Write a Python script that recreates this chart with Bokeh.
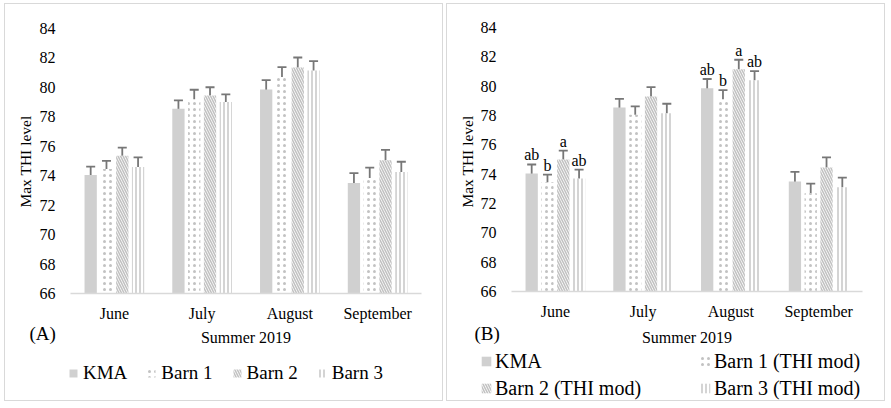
import math
from bokeh.plotting import figure
from bokeh.models import (ColumnDataSource, Range1d, FixedTicker, Whisker, TeeHead,
                          Legend, LegendItem, Label)
from bokeh.layouts import row
from bokeh.transform import dodge
from bokeh.core.properties import value
from bokeh.embed import file_html
from bokeh.resources import INLINE

months = ["June", "July", "August", "September"]

# Panel A: maximum THI level
kma_a = [74.05, 78.55, 79.85, 73.5]
barn1_a = [74.45, 79.2, 80.7, 73.85]
barn2_a = [75.35, 79.45, 81.35, 75.05]
barn3_a = [74.6, 79.0, 81.15, 74.25]
kma_a_err = [0.57, 0.57, 0.65, 0.68]
barn1_a_err = [0.56, 0.64, 0.68, 0.7]
barn2_a_err = [0.56, 0.56, 0.68, 0.71]
barn3_a_err = [0.64, 0.53, 0.64, 0.7]

# Panel B: maximum THI level (THI mod)
kma_b = [74.05, 78.55, 79.85, 73.5]
barn1_b = [73.45, 78.05, 79.1, 72.7]
barn2_b = [75.0, 79.3, 81.15, 74.45]
barn3_b = [73.7, 78.15, 80.4, 73.1]
kma_b_err = [0.61, 0.59, 0.64, 0.66]
barn1_b_err = [0.52, 0.57, 0.63, 0.65]
barn2_b_err = [0.6, 0.63, 0.65, 0.69]
barn3_b_err = [0.61, 0.65, 0.63, 0.66]
kma_b_sig = ["ab", "", "ab", ""]
barn1_b_sig = ["b", "", "b", ""]
barn2_b_sig = ["a", "", "a", ""]
barn3_b_sig = ["ab", "", "ab", ""]

names_a = ["KMA", "Barn 1", "Barn 2", "Barn 3"]
names_b = ["KMA", "Barn 1 (THI mod)", "Barn 2 (THI mod)", "Barn 3 (THI mod)"]
x_title = "Summer 2019"
y_title = "Max THI level"
y_ticks = [66, 68, 70, 72, 74, 76, 78, 80, 82, 84]

FONT = "Liberation Serif"
LEGEND_FONT = "Times"
GRAY = "#d0d0d0"
HATCH = "#c2c2c2"
ERR = "#777777"
W, H = 439, 398          # inner canvas of each panel (1px border around)

offsets = [-0.27, -0.09, 0.09, 0.27]
styles = [
    dict(fill_color=GRAY),
    dict(fill_color="white", hatch_pattern="dot", hatch_color=HATCH, hatch_scale=6, hatch_weight=3),
    dict(fill_color="white", hatch_pattern="left_diagonal_line", hatch_color=HATCH, hatch_scale=5, hatch_weight=1.6),
    dict(fill_color="white", hatch_pattern="vertical_line", hatch_color=HATCH, hatch_scale=4, hatch_weight=1.4),
]


def make_panel(series, errs, sigs, names, geo):
    fl, fr, ft, fb = geo["frame"]      # plot area edges in canvas px
    n = len(months)
    ux = (fr - fl) / n
    uy = (fb - ft) / (y_ticks[-1] - y_ticks[0])
    xr = Range1d(-fl / ux, n + (W - fr) / ux)
    yr = Range1d(y_ticks[0] - (H - fb) / uy, y_ticks[-1] + ft / uy)

    p = figure(x_range=xr, y_range=yr, width=W, height=H, output_backend="svg",
               toolbar_location=None, min_border=0)
    p.styles = {"border": "1px solid #d9d9d9"}
    p.outline_line_color = None
    p.grid.visible = False

    ya = p.yaxis[0]
    ya.fixed_location = 0
    ya.bounds = (y_ticks[0], y_ticks[-1])
    ya.ticker = FixedTicker(ticks=y_ticks)
    ya.axis_line_color = None
    ya.major_tick_line_color = None
    ya.minor_tick_line_color = None
    ya.major_tick_out = 0
    ya.minor_tick_out = 0
    ya.major_label_text_font = FONT
    ya.major_label_text_font_size = "16px"
    ya.major_label_text_color = "black"
    ya.major_label_standoff = 15

    xa = p.xaxis[0]
    xa.fixed_location = y_ticks[0]
    xa.bounds = (0, n)
    centers = [i + 0.5 for i in range(n)]
    xa.ticker = FixedTicker(ticks=centers)
    xa.major_label_overrides = {c: m for c, m in zip(centers, months)}
    xa.axis_line_color = "#d9d9d9"
    xa.axis_line_width = 1.5
    xa.major_tick_line_color = None
    xa.minor_tick_line_color = None
    xa.major_tick_out = 0
    xa.minor_tick_out = 0
    xa.major_label_text_font = FONT
    xa.major_label_text_font_size = "16px"
    xa.major_label_text_color = "black"
    xa.major_label_standoff = 11

    rends = []
    for vals, err, off, st, sig in zip(series, errs, offsets, styles, sigs):
        src = ColumnDataSource(dict(
            xc=centers, top=vals,
            upper=[v + e for v, e in zip(vals, err)],
            lower=[v - e for v, e in zip(vals, err)],
            sig=sig if sig is not None else [""] * n,
        ))
        x = dodge("xc", off)
        r = p.vbar(x=x, top="top", bottom=y_ticks[0], width=0.14, source=src, line_color=None, **st)
        rends.append(r)
        p.add_layout(Whisker(source=src, base=x, upper="upper", lower="lower",
                             line_color=ERR, line_width=1.8,
                             upper_head=TeeHead(size=9, line_color=ERR, line_width=1.8),
                             lower_head=TeeHead(size=9, line_color=ERR, line_width=1.8)))
        if sig is not None:
            p.text(x=x, y="upper", text="sig", source=src, text_font=value(FONT),
                   text_font_size="16px", text_align="center", text_baseline="bottom",
                   text_color="black", y_offset=-1)

    def lab(text, xy, size, align, angle=0.0):
        p.add_layout(Label(x=xy[0], y=H - xy[1], x_units="screen", y_units="screen", text=text,
                           text_font=FONT, text_font_size=size, text_color="black",
                           text_align=align, text_baseline="middle", angle=angle))

    lab(y_title, geo["ytitle"], "15.5px", "center", math.pi / 2)
    lab(x_title, geo["xtitle"], "16px", "center")
    lab(geo["tag"], geo["tag_xy"], "19px", "left")

    for idx, (lx, ly_bottom), orient in geo["legends"]:
        leg = Legend(items=[LegendItem(label=names[i], renderers=[rends[i]]) for i in idx],
                     orientation=orient, location=(lx, H - ly_bottom), padding=0, margin=0,
                     border_line_color=None, background_fill_alpha=0,
                     glyph_width=geo["glyph"][0], glyph_height=geo["glyph"][0],
                     label_standoff=geo["glyph"][1], label_height=geo["label_h"],
                     spacing=geo["spacing"])
        leg.label_text_font = LEGEND_FONT
        leg.label_text_font_size = geo["font"]
        leg.label_text_color = "black"
        leg.label_text_font_style = "normal"
        p.add_layout(leg)
    return p


geoA = dict(frame=(65, 416, 24, 289), ytitle=(20, 157), xtitle=(240.5, 333), tag="(A)",
            tag_xy=(24, 329), legends=[([0, 1, 2, 3], (63, 381), "horizontal")],
            glyph=(10, 5), label_h=24, spacing=19, font="19px")
geoB = dict(frame=(64, 415, 23, 287), ytitle=(19.5, 157), xtitle=(239.5, 333), tag="(B)",
            tag_xy=(27, 329), legends=[([0, 2], (33, 397), "vertical"), ([1, 3], (252, 397), "vertical")],
            glyph=(12, 3), label_h=26, spacing=1, font="20px")

pA = make_panel([kma_a, barn1_a, barn2_a, barn3_a],
                [kma_a_err, barn1_a_err, barn2_a_err, barn3_a_err],
                [None, None, None, None], names_a, geoA)
pB = make_panel([kma_b, barn1_b, barn2_b, barn3_b],
                [kma_b_err, barn1_b_err, barn2_b_err, barn3_b_err],
                [kma_b_sig, barn1_b_sig, barn2_b_sig, barn3_b_sig], names_b, geoB)

layout = row(pA, pB, spacing=3, styles={"margin-left": "4px", "margin-top": "3px"})
open("out.html", "w").write(file_html(layout, INLINE))
